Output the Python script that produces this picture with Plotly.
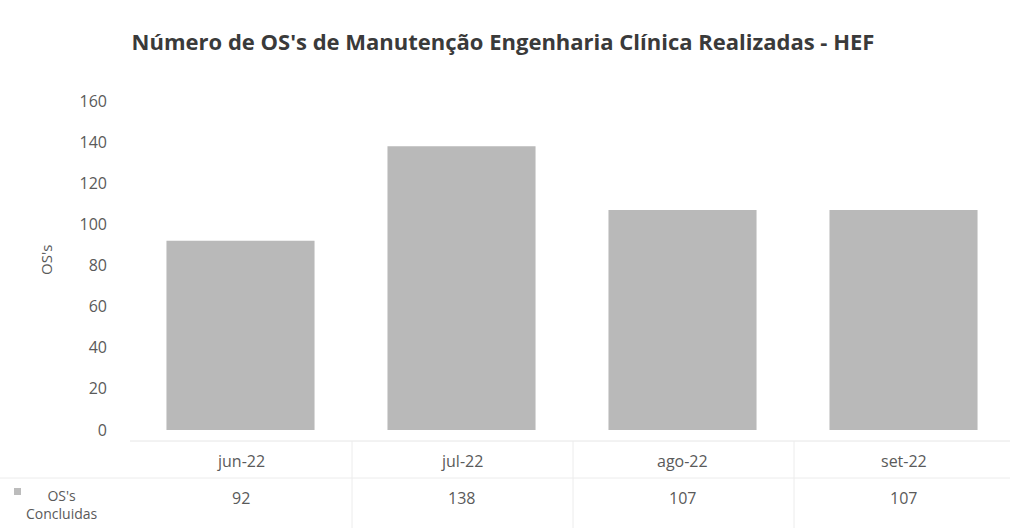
import plotly.graph_objects as go

# Monthly completed clinical-engineering work orders
months = ["jun-22", "jul-22", "ago-22", "set-22"]
os_concluidas = [92, 138, 107, 107]
y_ticks = [0, 20, 40, 60, 80, 100, 120, 140, 160]

W, H = 1014, 531
L, R, T, B = 130, 0, 101, 101
plot_w = W - L - R
plot_h = H - T - B

def px_x(px):
    return (px - L) / plot_w

def px_y(py):
    return (H - B - py) / plot_h

text_col = "#5a5a5a"
font_family = "Open Sans, Lato, sans-serif"

fig = go.Figure()
fig.add_trace(go.Bar(
    x=months,
    y=os_concluidas,
    width=0.67,
    marker=dict(color="#b9b9b9", line=dict(width=0)),
    name="OS's Concluidas",
    showlegend=False,
))

annotations = []
# data table: month row and value row
for m, v in zip(months, os_concluidas):
    annotations.append(dict(x=m, y=px_y(461), xref="x", yref="paper", text=m,
                            xanchor="center", yanchor="middle", showarrow=False,
                            font=dict(size=16, color=text_col, family=font_family)))
    annotations.append(dict(x=m, y=px_y(498), xref="x", yref="paper", text=str(v),
                            xanchor="center", yanchor="middle", showarrow=False,
                            font=dict(size=16, color=text_col, family=font_family)))

# series key in the table
annotations.append(dict(x=px_x(62), y=px_y(504), xref="paper", yref="paper",
                        text="OS's<br>Concluidas", showarrow=False, align="center",
                        xanchor="center", yanchor="middle",
                        font=dict(size=14, color=text_col, family=font_family)))
# y-axis title
annotations.append(dict(x=px_x(46), y=px_y(260), xref="paper", yref="paper",
                        text="OS's", showarrow=False, textangle=-90,
                        xanchor="center", yanchor="middle",
                        font=dict(size=15, color=text_col, family=font_family)))

shapes = [
    # legend swatch
    dict(type="rect", xref="paper", yref="paper",
         x0=px_x(14), x1=px_x(21), y0=px_y(495), y1=px_y(488),
         fillcolor="#bcbcbc", line=dict(width=0)),
    # table grid lines
    dict(type="line", xref="paper", yref="paper", x0=px_x(130), x1=px_x(1010),
         y0=px_y(441), y1=px_y(441), line=dict(color="#e6e6e6", width=1)),
    dict(type="line", xref="paper", yref="paper", x0=px_x(0), x1=px_x(1010),
         y0=px_y(478), y1=px_y(478), line=dict(color="#ececec", width=1)),
]
for px in (352, 573, 794):
    shapes.append(dict(type="line", xref="paper", yref="paper", x0=px_x(px), x1=px_x(px),
                       y0=px_y(441), y1=px_y(528), line=dict(color="#ececec", width=1)))

fig.update_layout(
    width=W, height=H,
    margin=dict(l=L, r=R, t=T, b=B),
    paper_bgcolor="white",
    plot_bgcolor="white",
    bargap=0.33,
    title=dict(text="<b>Número de OS's de Manutenção Engenharia Clínica Realizadas - HEF</b>",
               x=503 / W, xref="container", xanchor="center",
               y=1 - 42 / H, yref="container", yanchor="middle",
               font=dict(size=22, color="#3a3a3a", family=font_family)),
    xaxis=dict(showticklabels=False, showline=False, showgrid=False, ticks="",
               range=[-0.5, 3.5]),
    yaxis=dict(range=[0, 160], tickvals=y_ticks, showgrid=False, showline=False,
               zeroline=False, ticks="", ticklabelstandoff=22,
               tickfont=dict(size=16, color=text_col, family=font_family)),
    annotations=annotations,
    shapes=shapes,
)

fig.write_html("out.html")
